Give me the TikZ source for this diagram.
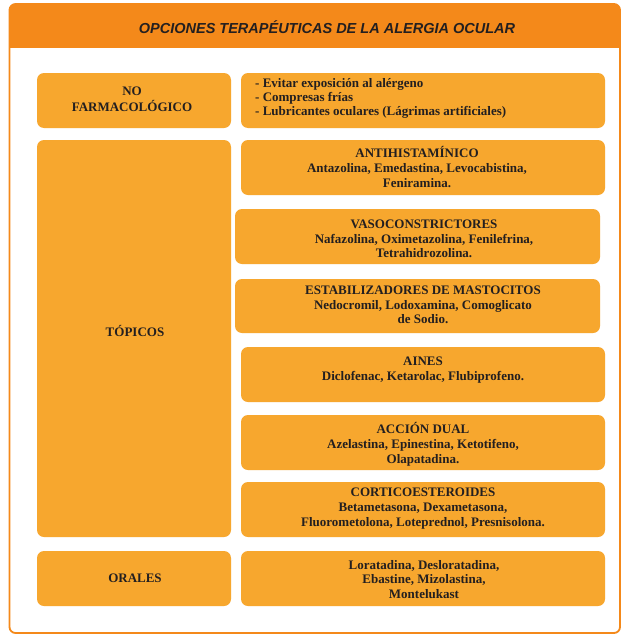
\documentclass[tikz,border=0pt]{standalone}
\usepackage{fontspec}
\setmainfont{Liberation Serif}
\newfontfamily\titlefont{Liberation Sans}
\definecolor{headorange}{RGB}{244,137,26}
\definecolor{boxorange}{RGB}{247,167,46}
\definecolor{inkdark}{RGB}{35,31,32}
\tikzset{
  box/.style={fill=boxorange, draw=none, rounded corners=7pt, inner sep=0pt},
  boxtext/.style={text=inkdark, align=center, inner sep=0pt,
    font=\fontsize{13}{14.7}\selectfont\bfseries},
  titletext/.style={text=inkdark, inner sep=0pt,
    font=\titlefont\fontsize{14.5}{16}\selectfont\bfseries\itshape},
}
\begin{document}
\begin{tikzpicture}[x=1pt,y=-1pt]
\useasboundingbox (0,0) rectangle (635,640);
% frame and header
\fill[white, rounded corners=6pt] (9.5,4) rectangle (620,633);
\begin{scope}
  \clip[rounded corners=6pt] (9.5,4) rectangle (620,633);
  \fill[headorange] (9.5,4) rectangle (620,47.5);
\end{scope}
\draw[headorange, line width=1.8pt, rounded corners=6pt] (9.5,4) rectangle (620,633);
\node[titletext] (title) at (327,27.5) {OPCIONES TERAPÉUTICAS DE LA ALERGIA OCULAR};

% left column boxes
\node[box, minimum width=194pt, minimum height=55pt] (nofarmbox) at (134,100.5) {};
\node[box, minimum width=194pt, minimum height=397pt] (topbox) at (134,338.5) {};
\node[box, minimum width=194pt, minimum height=55pt] (oralbox) at (134,578.5) {};
\node[boxtext, font=\fontsize{13}{16}\selectfont\bfseries] (nofarm) at (132,99) {NO\\FARMACOLÓGICO};
\node[boxtext] (topicos) at (135,331) {TÓPICOS};
\node[boxtext] (orales) at (135,578.5) {ORALES};

% right column boxes
\node[box, minimum width=364pt, minimum height=55pt] (listbox) at (423,100.5) {};
\node[box, minimum width=364pt, minimum height=55pt] (antibox) at (423,167.5) {};
\node[box, minimum width=365pt, minimum height=55pt] (vasobox) at (417.5,236.5) {};
\node[box, minimum width=365pt, minimum height=54pt] (estabbox) at (417.5,306) {};
\node[box, minimum width=364pt, minimum height=55pt] (ainesbox) at (423,374.5) {};
\node[box, minimum width=364pt, minimum height=55pt] (dualbox) at (423,442.5) {};
\node[box, minimum width=364pt, minimum height=55pt] (cortibox) at (423,509.5) {};
\node[box, minimum width=364pt, minimum height=55pt] (lorabox) at (423,578.5) {};

\node[boxtext, align=left, anchor=west, font=\fontsize{13}{14.3}\selectfont\bfseries] (list) at (255,98.5)
  {- Evitar exposición al alérgeno\\- Compresas frías\\- Lubricantes oculares (Lágrimas artificiales)};
\node[boxtext] (anti) at (417,167) {ANTIHISTAMÍNICO\\Antazolina, Emedastina, Levocabistina,\\Feniramina.};
\node[boxtext] (vaso) at (424,239) {VASOCONSTRICTORES\\Nafazolina, Oximetazolina, Fenilefrina,\\Tetrahidrozolina.};
\node[boxtext] (estab) at (423,305) {ESTABILIZADORES DE MASTOCITOS\\Nedocromil, Lodoxamina, Comoglicato\\de Sodio.};
\node[boxtext] (aines) at (423,370) {AINES\\Diclofenac, Ketarolac, Flubiprofeno.};
\node[boxtext] (dual) at (423,444.5) {ACCIÓN DUAL\\Azelastina, Epinestina, Ketotifeno,\\Olapatadina.};
\node[boxtext] (corti) at (423,508.5) {CORTICOESTEROIDES\\Betametasona, Dexametasona,\\Fluorometolona, Loteprednol, Presnisolona.};
\node[boxtext] (lora) at (424,579.5) {Loratadina, Desloratadina,\\Ebastine, Mizolastina,\\Montelukast};
\end{tikzpicture}
\end{document}
